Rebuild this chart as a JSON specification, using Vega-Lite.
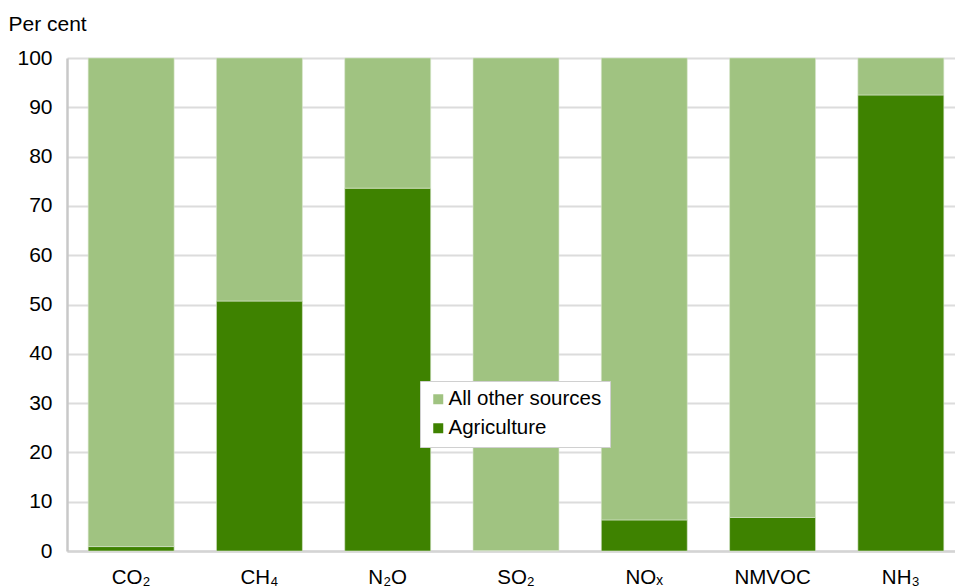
{
  "$schema": "https://vega.github.io/schema/vega-lite/v6.json",
  "autosize": "none",
  "width": 898,
  "height": 493,
  "padding": {"left": 67, "top": 58, "right": 0, "bottom": 36},
  "background": "white",
  "config": {
    "font": "Liberation Sans",
    "view": {"stroke": null}
  },
  "data": {
    "values": [
      {"gas": "CO₂", "source": "Agriculture", "value": 0.9, "ord": 1},
      {"gas": "CO₂", "source": "All other sources", "value": 99.1, "ord": 2},
      {"gas": "CH₄", "source": "Agriculture", "value": 50.7, "ord": 1},
      {"gas": "CH₄", "source": "All other sources", "value": 49.3, "ord": 2},
      {"gas": "N₂O", "source": "Agriculture", "value": 73.6, "ord": 1},
      {"gas": "N₂O", "source": "All other sources", "value": 26.4, "ord": 2},
      {"gas": "SO₂", "source": "Agriculture", "value": 0.1, "ord": 1},
      {"gas": "SO₂", "source": "All other sources", "value": 99.9, "ord": 2},
      {"gas": "NOₓ", "source": "Agriculture", "value": 6.3, "ord": 1},
      {"gas": "NOₓ", "source": "All other sources", "value": 93.7, "ord": 2},
      {"gas": "NMVOC", "source": "Agriculture", "value": 6.8, "ord": 1},
      {"gas": "NMVOC", "source": "All other sources", "value": 93.2, "ord": 2},
      {"gas": "NH₃", "source": "Agriculture", "value": 92.5, "ord": 1},
      {"gas": "NH₃", "source": "All other sources", "value": 7.5, "ord": 2}
    ]
  },
  "mark": {"type": "bar", "stroke": "#d8e6cc", "strokeWidth": 0.6},
  "encoding": {
    "x": {
      "field": "gas",
      "type": "nominal",
      "sort": ["CO₂", "CH₄", "N₂O", "SO₂", "NOₓ", "NMVOC", "NH₃"],
      "scale": {"paddingInner": 0.33, "paddingOuter": 0.165},
      "axis": {
        "title": null,
        "labelAngle": 0,
        "labelFontSize": 20.5,
        "labelColor": "#000000",
        "labelPadding": 16,
        "ticks": false,
        "domainColor": "#d4d4d4",
        "domainWidth": 2.5
      }
    },
    "y": {
      "field": "value",
      "type": "quantitative",
      "stack": "zero",
      "scale": {"domain": [0, 100], "nice": false},
      "axis": {
        "values": [0, 10, 20, 30, 40, 50, 60, 70, 80, 90, 100],
        "title": "Per cent",
        "titleAngle": 0,
        "titleAlign": "left",
        "titleBaseline": "middle",
        "titleX": -59,
        "titleY": -34,
        "titleFontSize": 21,
        "titleFontWeight": "normal",
        "titleColor": "#000000",
        "labelFontSize": 21,
        "labelColor": "#000000",
        "labelPadding": 15,
        "ticks": false,
        "domainColor": "#c8c8c8",
        "domainWidth": 2.5,
        "gridColor": "#dcdcdc",
        "gridWidth": 2
      }
    },
    "color": {
      "field": "source",
      "type": "nominal",
      "scale": {"domain": ["All other sources", "Agriculture"], "range": ["#a0c381", "#3e8200"]},
      "legend": {
        "title": null,
        "orient": "none",
        "legendX": 353,
        "legendY": 323,
        "symbolType": "square",
        "symbolSize": 100,
        "symbolStrokeWidth": 0,
        "labelFontSize": 20.5,
        "labelColor": "#000000",
        "labelOffset": 0,
        "rowPadding": 8,
        "padding": 8,
        "fillColor": "white",
        "strokeColor": "#d0d0d0"
      }
    },
    "order": {"field": "ord", "type": "quantitative", "sort": "ascending"}
  }
}
